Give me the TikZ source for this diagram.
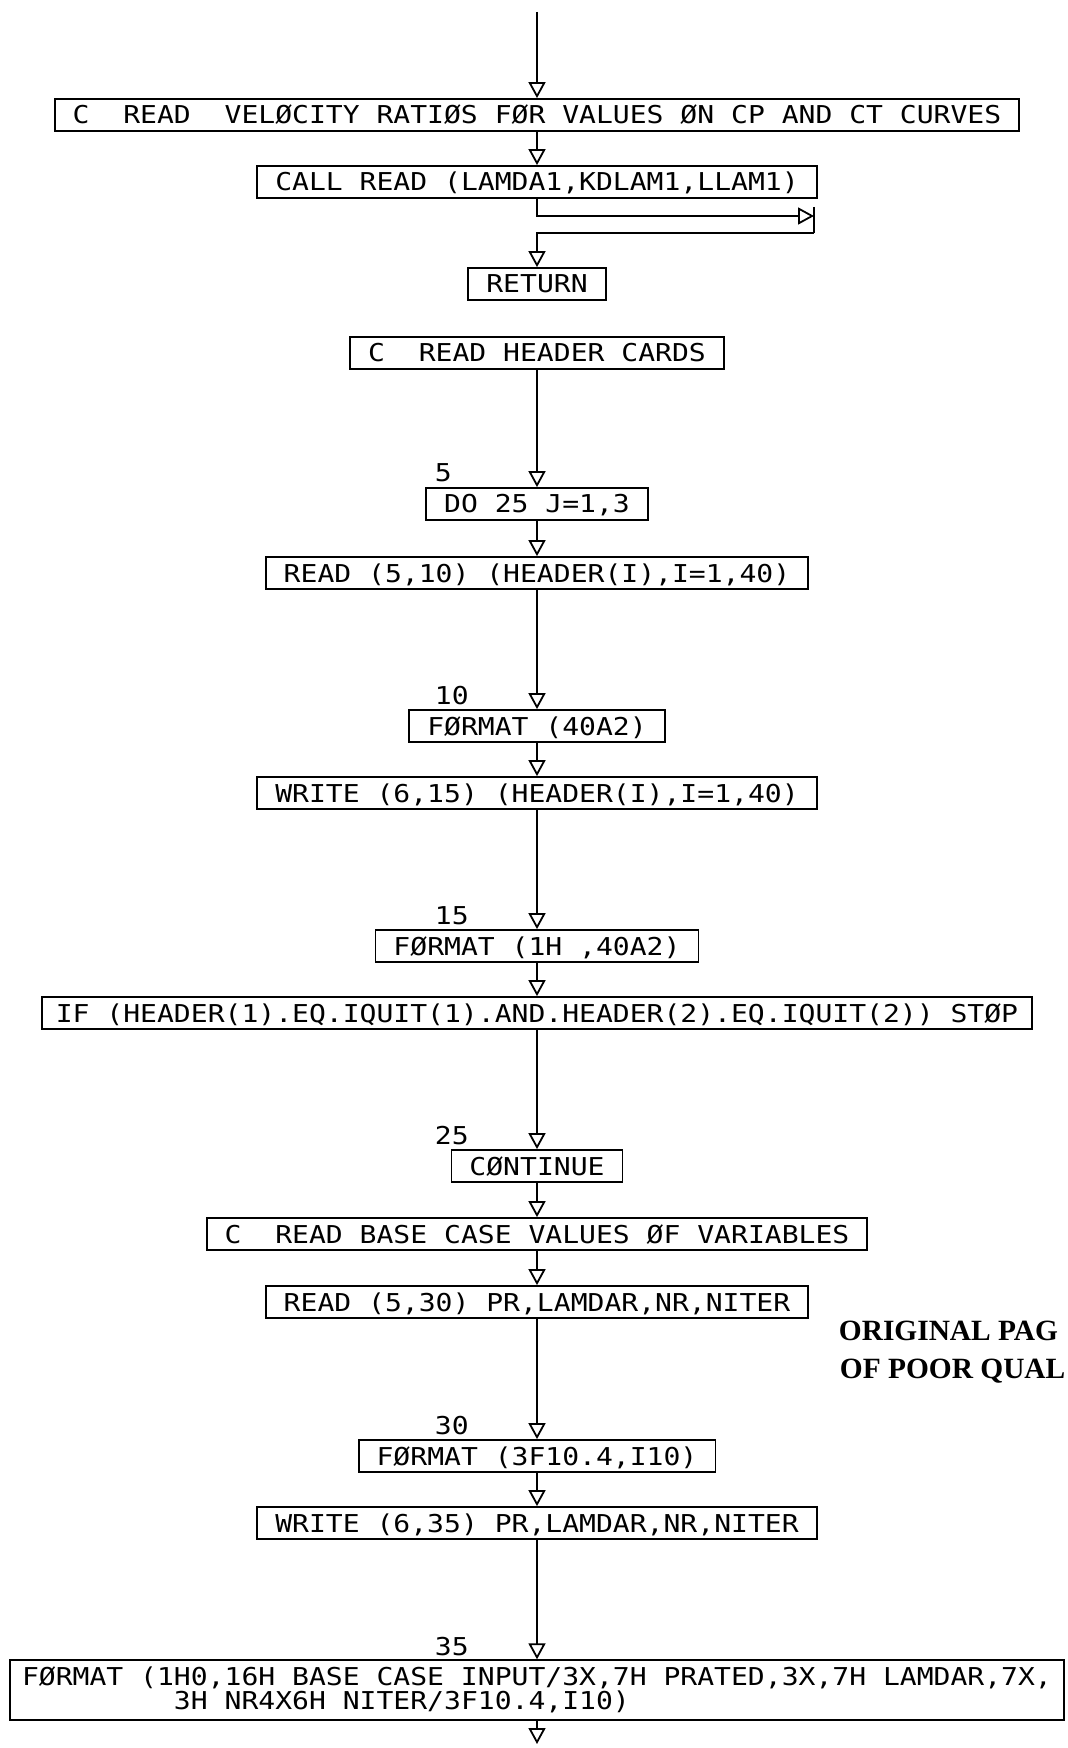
\documentclass[tikz,border=0pt]{standalone}
\usepackage{fontspec}
\newfontfamily\plotter[FakeStretch=1.14]{DejaVu Sans Mono}
\newfontfamily\stampfont{Liberation Serif}
\usetikzlibrary{arrows.meta}

\begin{document}
\begin{tikzpicture}
		[x=0.5pt, y=-0.5pt, line width=0.9pt,
		 code/.style={draw, font=\plotter\fontsize{12.3pt}{11pt}\selectfont, inner xsep=9pt},
		 stmt/.style={code, minimum height=16pt, inner ysep=2pt, text height=9pt, text depth=0pt},
		 stno/.style={font=\plotter\fontsize{12.3pt}{11pt}\selectfont, inner sep=0pt, anchor=base west},
		 stamp/.style={font=\stampfont\bfseries\fontsize{14.7pt}{19pt}\selectfont, inner sep=0pt, anchor=base west},
		 flow/.style={-{Triangle[open, length=8pt, width=8.5pt]}}]
			\useasboundingbox[fill=white] (0,0) rectangle (1067,1748);
			\node[stmt] (cvel) at (537,115) {C~~READ~~VELØCITY RATIØS FØR VALUES ØN CP AND CT CURVES};
			\node[stmt] (callread) at (537,182) {CALL READ (LAMDA1,KDLAM1,LLAM1)};
			\node[stmt] (ret) at (537,284) {RETURN};
			\node[stmt] (hdr) at (537,353) {C~~READ HEADER CARDS};
			\node[stmt] (do25) at (537,504) {DO 25 J=1,3};
			\node[stmt] (rd10) at (537,573) {READ (5,10) (HEADER(I),I=1,40)};
			\node[stmt] (fmt10) at (537,726) {FØRMAT (40A2)};
			\node[stmt] (wr15) at (537,793) {WRITE (6,15) (HEADER(I),I=1,40)};
			\node[stmt] (fmt15) at (537,946) {FØRMAT (1H ,40A2)};
			\node[stmt, inner xsep=7pt] (iftest) at (537,1013) {IF (HEADER(1).EQ.IQUIT(1).AND.HEADER(2).EQ.IQUIT(2)) STØP};
			\node[stmt] (cont) at (537,1166) {CØNTINUE};
			\node[stmt] (cbase) at (537,1234) {C~~READ BASE CASE VALUES ØF VARIABLES};
			\node[stmt] (rd30) at (537,1302) {READ (5,30) PR,LAMDAR,NR,NITER};
			\node[stmt] (fmt30) at (537,1456) {FØRMAT (3F10.4,I10)};
			\node[stmt] (wr35) at (537,1523) {WRITE (6,35) PR,LAMDAR,NR,NITER};
			\node[code, align=left, inner xsep=6pt, minimum height=28.5pt] (fmt35) at (537,1690)
				{FØRMAT (1H0,16H BASE CASE INPUT/3X,7H PRATED,3X,7H LAMDAR,7X,\\\phantom{000000000}3H NR4X6H NITER/3F10.4,I10)};
			\node[stno] (n5) at (434,482) {5};
			\node[stno] (n10) at (434,704) {10};
			\node[stno] (n15) at (434,924) {15};
			\node[stno] (n25) at (434,1144) {25};
			\node[stno] (n30) at (434,1434) {30};
			\node[stno] (n35) at (434,1655) {35};
			\node[stamp] (stamp1) at (838,1340) {ORIGINAL PAG};
			\node[stamp] (stamp2) at (839,1378) {OF POOR QUAL};
			\coordinate (entry) at (537,12);
			\coordinate (jmp) at (814,216);
			\coordinate (jtop) at (814,207);
			\coordinate (jbot) at (814,233);
			\coordinate (exit) at (537,1744);
			\draw[flow] (entry) -- (cvel);
			\draw[flow] (cvel) -- (callread);
			\draw[flow] (callread) |- (jmp);
			\draw (jtop) -- (jbot);
			\draw[flow] (jbot) -| (ret);
			\foreach \a/\b in {hdr/do25, do25/rd10, rd10/fmt10, fmt10/wr15, wr15/fmt15, fmt15/iftest,
				iftest/cont, cont/cbase, cbase/rd30, rd30/fmt30, fmt30/wr35, wr35/fmt35}
				\draw[flow] (\a) -- (\b);
			\draw[flow] (fmt35) -- (exit);
	\end{tikzpicture}
\end{document}
